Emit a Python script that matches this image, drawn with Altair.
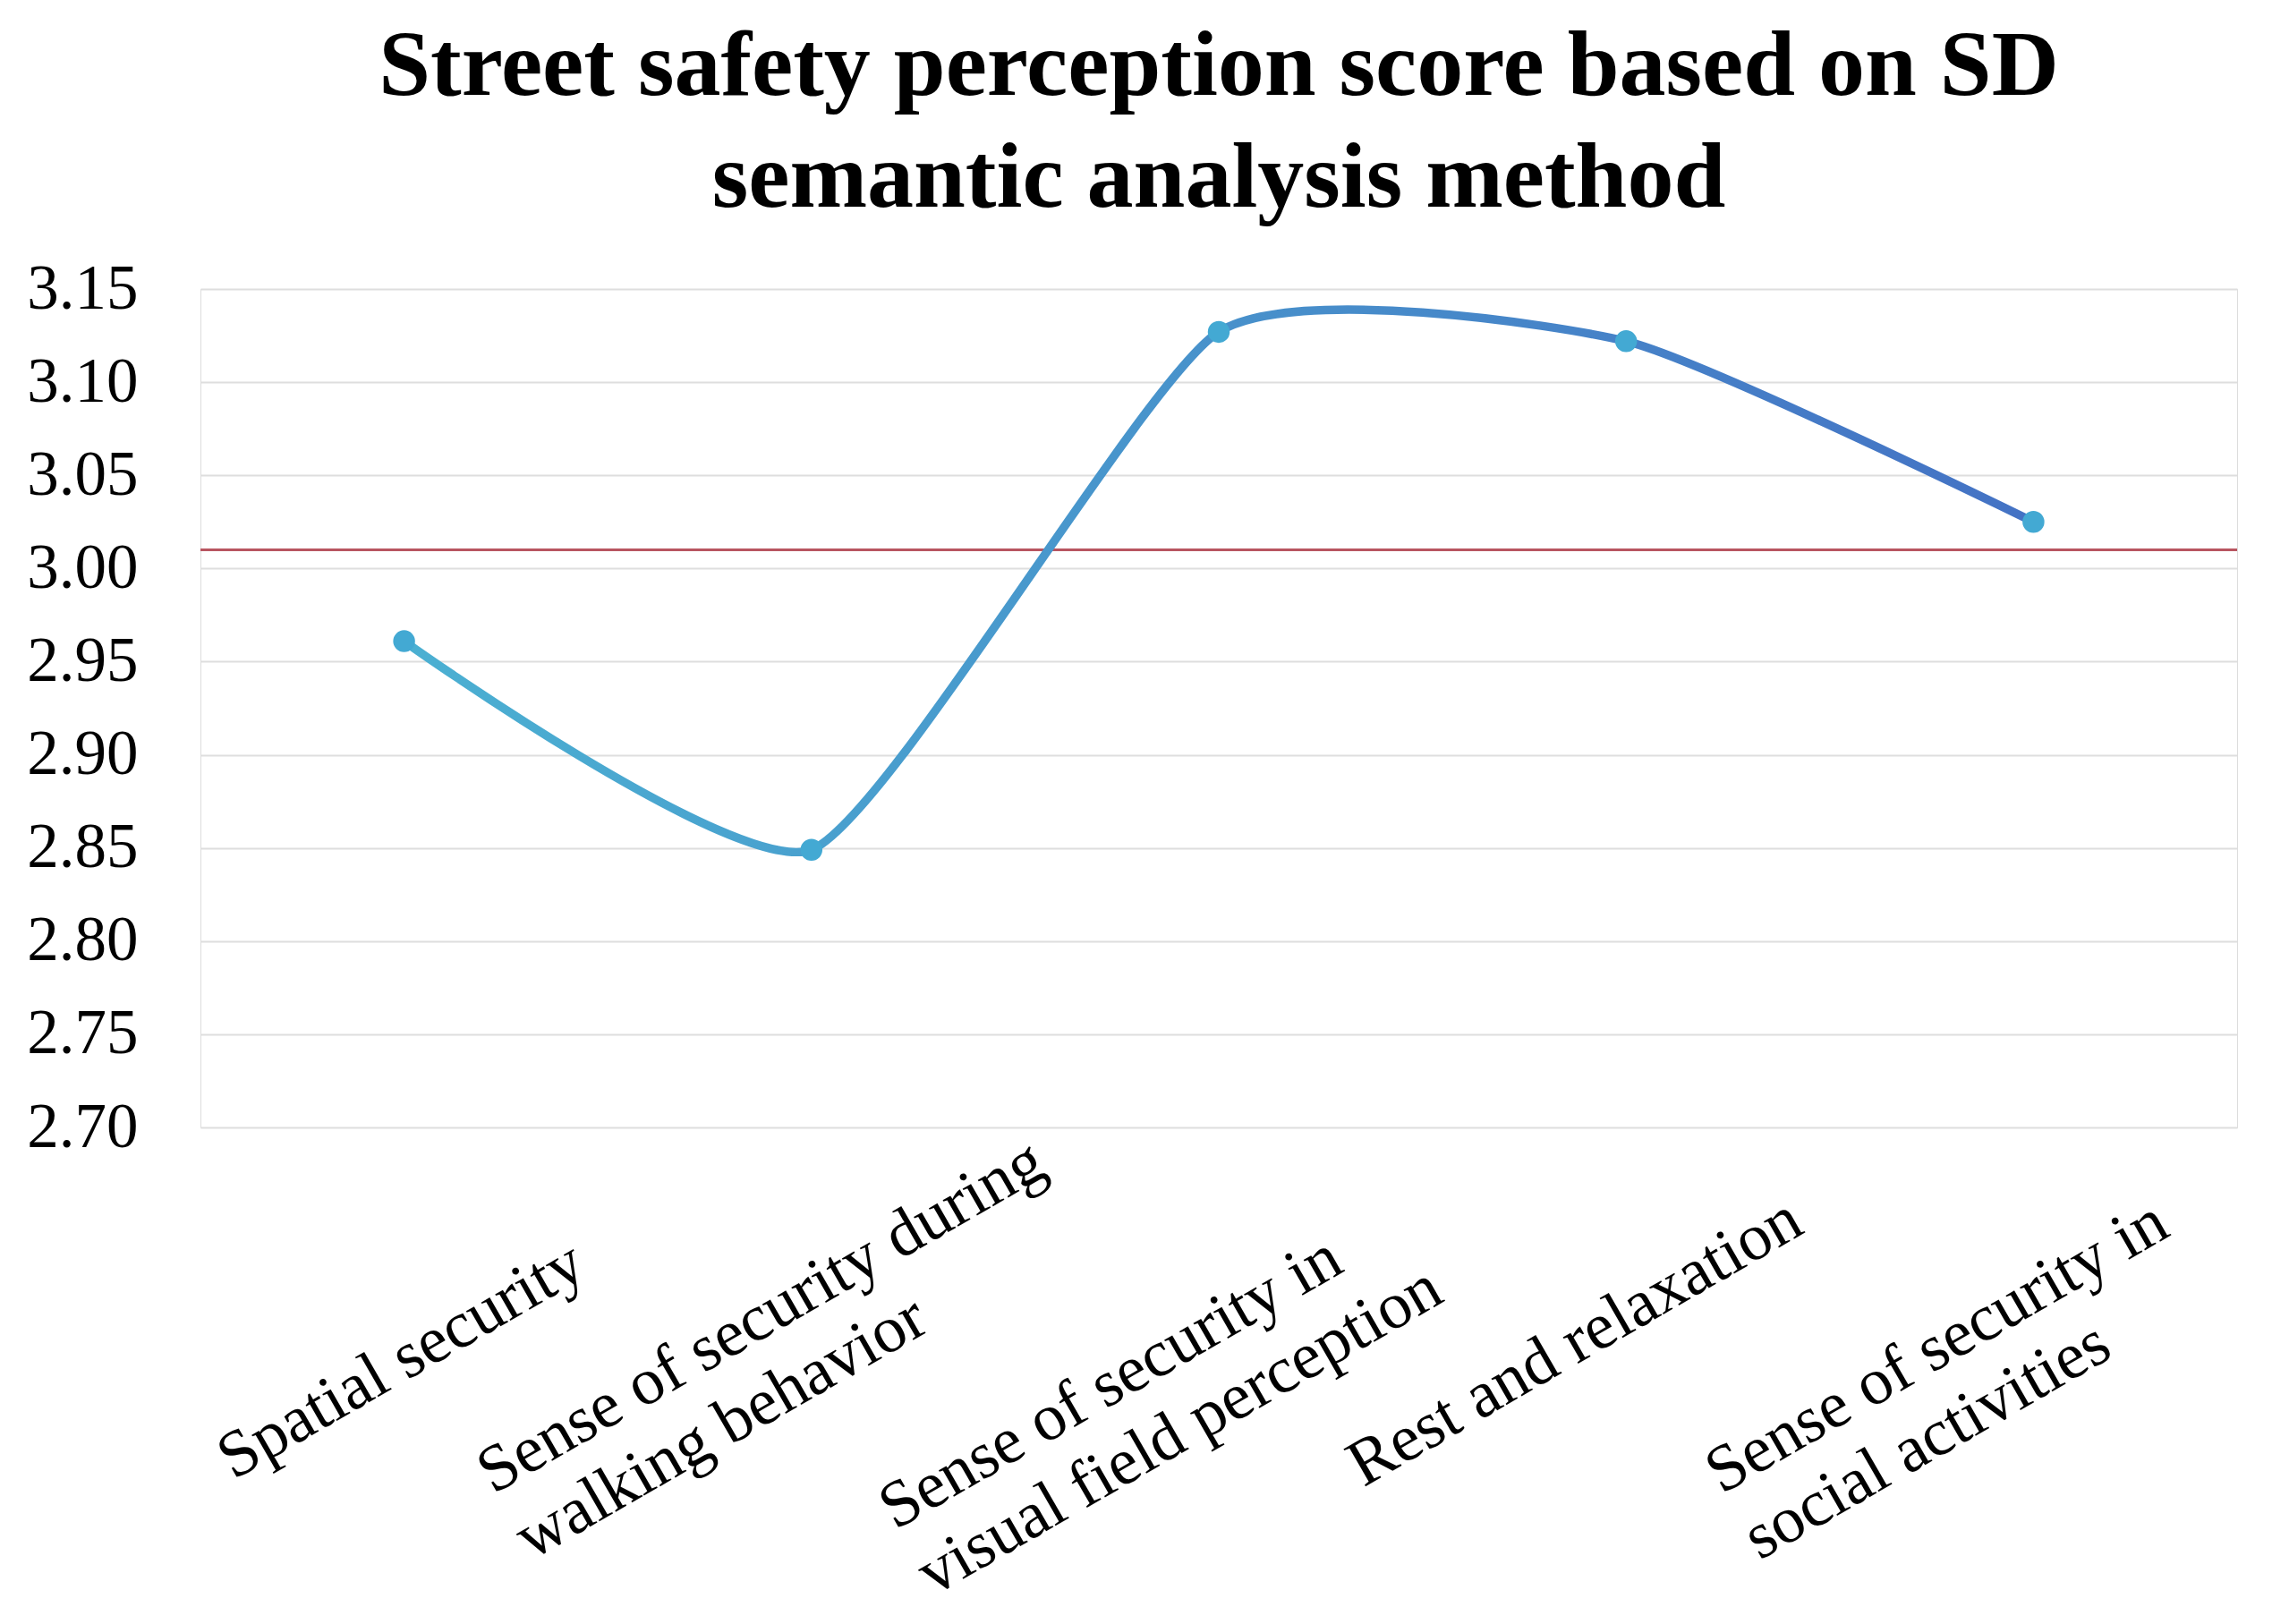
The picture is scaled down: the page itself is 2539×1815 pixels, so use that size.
import altair as alt
import pandas as pd

categories = [
    "Spatial security",
    "Sense of security during\nwalking behavior",
    "Sense of security in\nvisual field perception",
    "Rest and relaxation",
    "Sense of security in\nsocial activities",
]
scores = [2.961, 2.849, 3.127, 3.122, 3.025]
reference_value = 3.01
y_ticks = [2.70, 2.75, 2.80, 2.85, 2.90, 2.95, 3.00, 3.05, 3.10, 3.15]
title_lines = ["Street safety perception score based on SD", "semantic analysis method"]

df = pd.DataFrame({"category": categories, "score": scores})
ref_df = pd.DataFrame({"ref": [reference_value]})

FONT = "Liberation Serif"

label_offset = {
    "condition": [
        {"test": "datum.value === 'Spatial security'", "value": -191},
        {"test": "datum.value === 'Rest and relaxation'", "value": -294},
        {"test": "indexof(datum.value, 'social') >= 0", "value": -349},
        {"test": "indexof(datum.value, 'walking') >= 0", "value": -356},
    ],
    "value": -362,
}
label_padding = {
    "condition": [
        {"test": "datum.value === 'Spatial security'", "value": 394},
        {"test": "datum.value === 'Rest and relaxation'", "value": 402},
        {"test": "indexof(datum.value, 'visual') >= 0", "value": 450},
    ],
    "value": 410,
}

x_enc = alt.X(
    "category:N",
    sort=categories,
    scale=alt.Scale(type="point", padding=0.5),
    axis=alt.Axis(
        title=None,
        grid=False,
        domain=False,
        ticks=False,
        tickSize=0,
        labelAngle=330,
        labelAlign="left",
        labelBaseline="alphabetic",
        labelFont=FONT,
        labelFontSize=74,
        labelLineHeight=85,
        labelColor="#000000",
        labelPadding=label_padding,
        labelOffset=label_offset,
        labelLimit=0,
        labelOverlap=False,
        labelBound=False,
        labelFlush=False,
        labelExpr="split(datum.label, '\\n')",
    ),
)

y_enc = alt.Y(
    "score:Q",
    scale=alt.Scale(domain=[2.70, 3.15], nice=False, zero=False),
    axis=alt.Axis(
        title=None,
        values=y_ticks,
        format=".2f",
        grid=True,
        gridColor="#dedede",
        gridWidth=2,
        domain=False,
        ticks=False,
        tickSize=0,
        labelFont=FONT,
        labelFontSize=71,
        labelColor="#000000",
        labelPadding=70,
        labelFlush=False,
        labelOverlap=False,
    ),
)

gradient = alt.LinearGradient(
    gradient="linear",
    stops=[
        alt.GradientStop(color="#4bb0d2", offset=0),
        alt.GradientStop(color="#4472c4", offset=1),
    ],
    x1=0, x2=1, y1=0, y2=0,
)

line = alt.Chart(df).mark_line(
    interpolate="cardinal", tension=0.45, strokeWidth=9.5, color=gradient, strokeCap="round"
).encode(x=x_enc, y=y_enc)

points = alt.Chart(df).mark_point(
    filled=True, size=600, color="#43a9d3", opacity=1
).encode(x=alt.X("category:N", sort=categories), y="score:Q")

ref_rule = alt.Chart(ref_df).mark_rule(color="#b85560", strokeWidth=3).encode(y="ref:Q")

chart = alt.layer(ref_rule, line, points).properties(
    width=2276,
    height=937,
    title=alt.TitleParams(
        text=title_lines,
        font=FONT,
        fontSize=104,
        fontWeight="bold",
        color="#000000",
        lineHeight=125,
        anchor="middle",
        offset=34,
    ),
    autosize=alt.AutoSizeParams(type="none"),
    padding={"left": 216, "top": 315, "right": 20, "bottom": 548},
).configure_view(stroke=None).configure(background="white")

chart.save("out.html", embed_options={"renderer": "svg", "actions": False})
